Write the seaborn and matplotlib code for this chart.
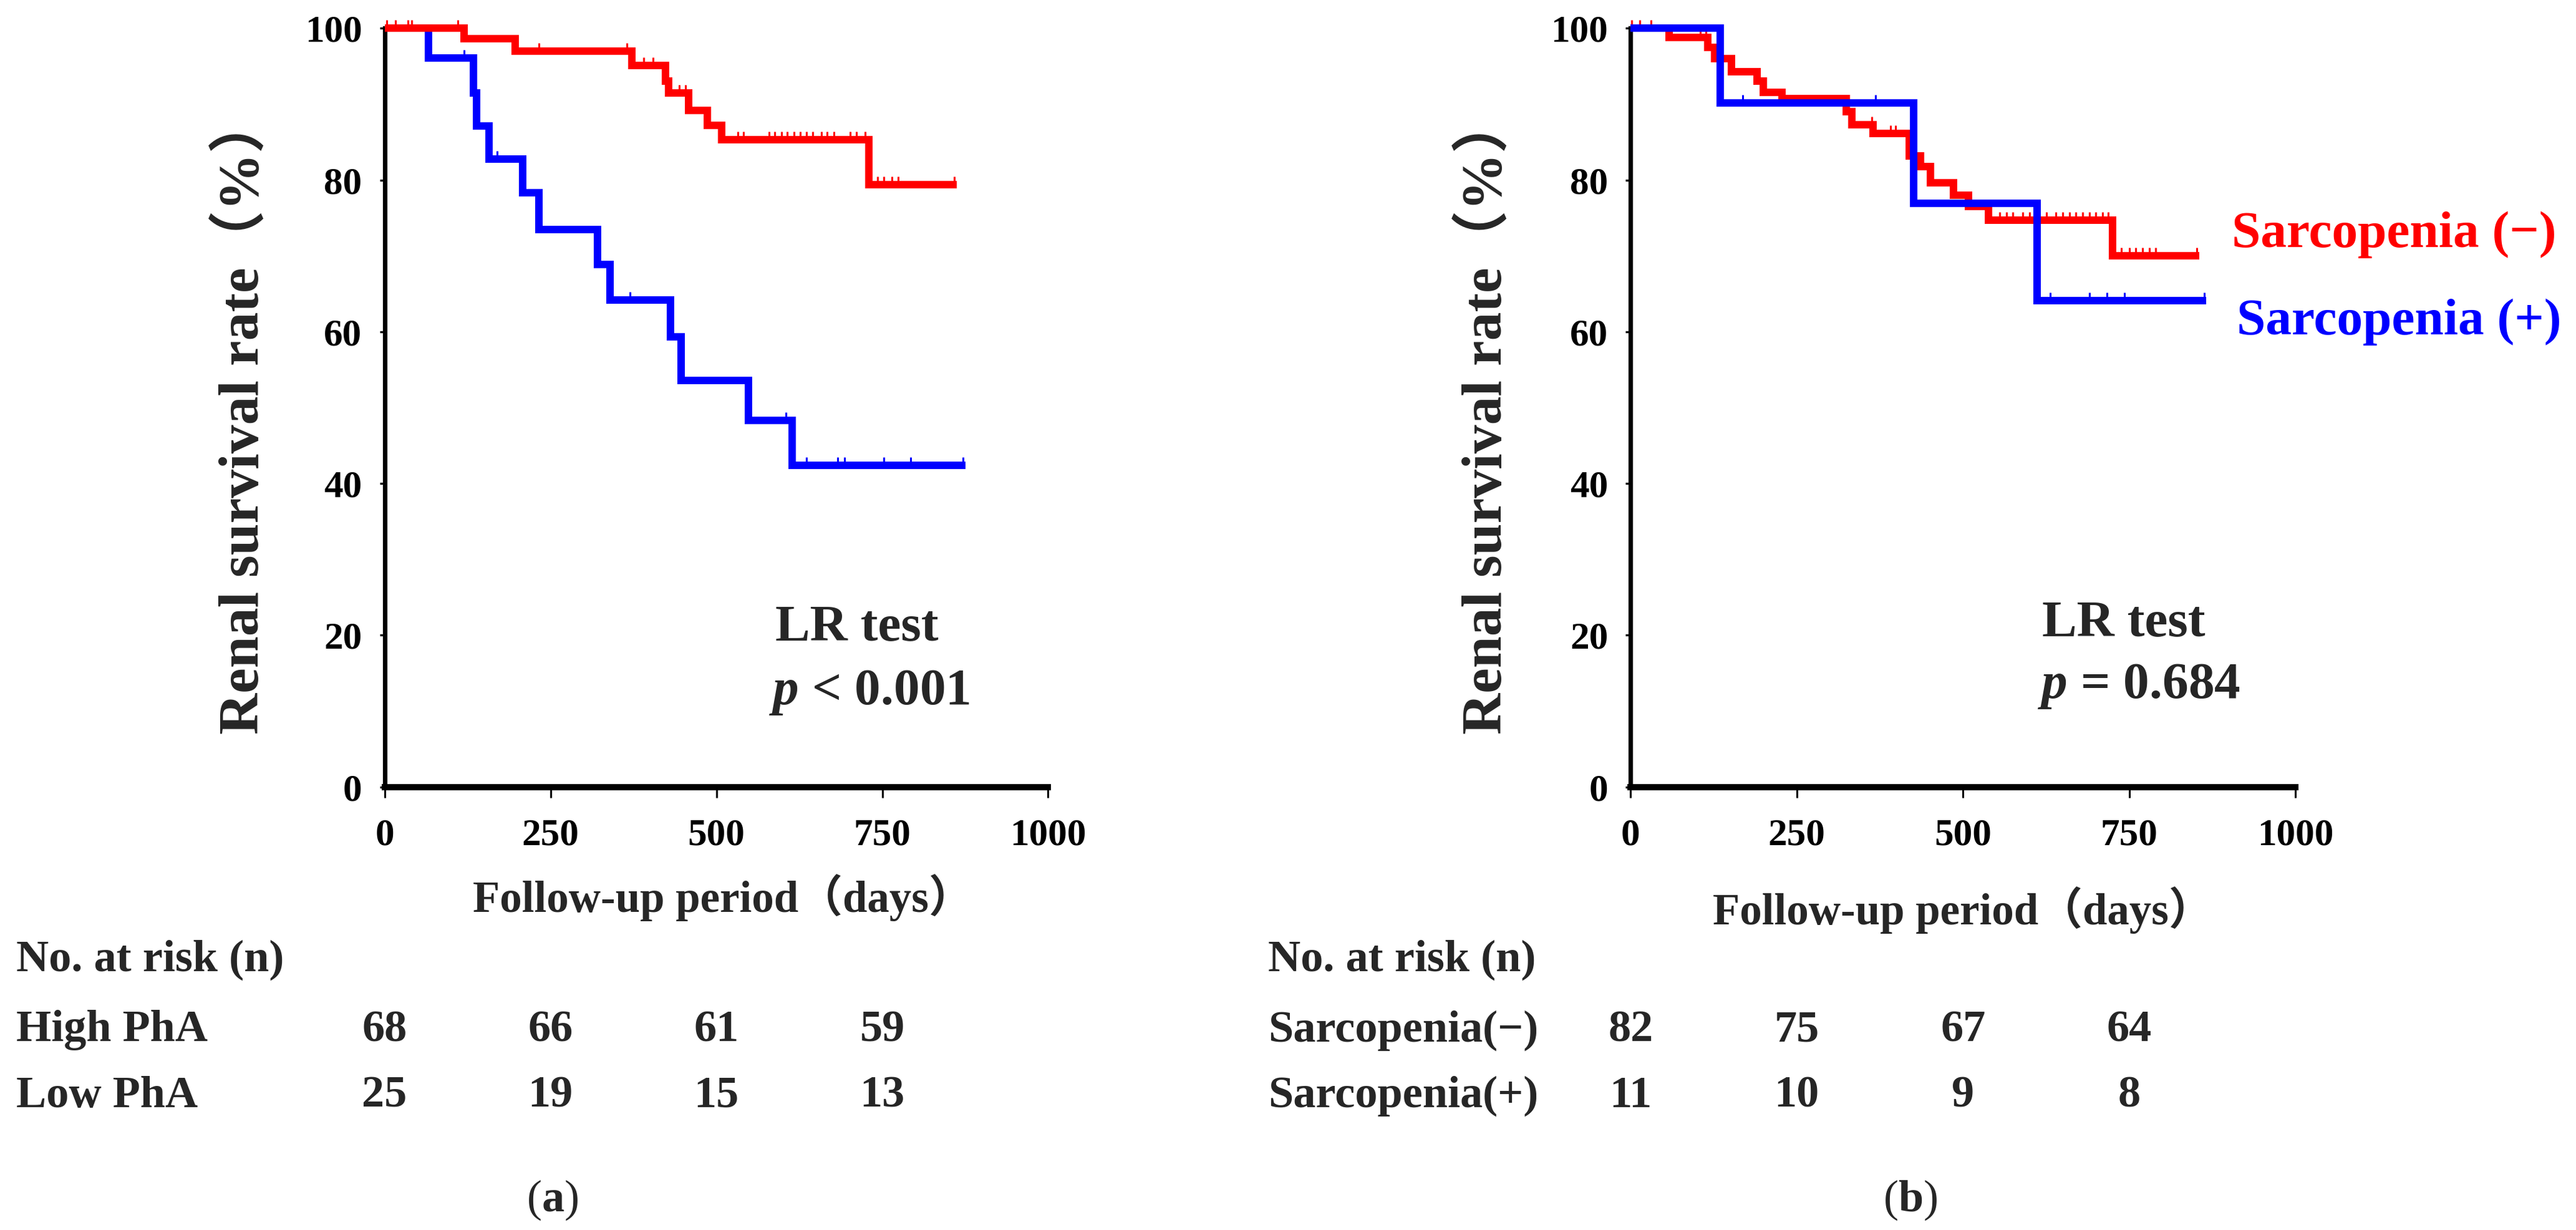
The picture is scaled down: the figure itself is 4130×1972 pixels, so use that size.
import numpy as np
import pandas as pd
import matplotlib
matplotlib.use("Agg")
import matplotlib.pyplot as plt
import seaborn as sns
from matplotlib.path import Path
from matplotlib.transforms import blended_transform_factory

# ---------------- data ----------------
# Panel (a): High PhA (red) / Low PhA (blue)
hi_days = [0, 120, 197, 373, 423, 428, 458, 486, 508, 730, 862]
hi_surv = [100, 98.6, 97.0, 95.1, 93.0, 91.5, 89.2, 87.2, 85.3, 79.4, 79.4]
hi_cens = [3, 16, 35, 41, 110, 233, 365, 390, 405, 444, 453, 532, 541, 579, 588,
           598, 607, 617, 626, 636, 645, 658, 667, 677, 702, 711, 724, 743, 752,
           765, 774, 859]

lo_days = [0, 66, 134, 139, 157, 208, 233, 321, 340, 431, 447, 548, 614, 875]
lo_surv = [100, 96.1, 91.5, 87.1, 82.8, 78.3, 73.5, 68.9, 64.2, 59.3, 53.6, 48.3, 42.4, 42.4]
lo_cens = [120, 170, 370, 605, 636, 683, 693, 752, 793, 872]

# Panel (b): Sarcopenia (-) (red) / Sarcopenia (+) (blue)
sn_days = [0, 58, 116, 126, 152, 190, 200, 228, 324, 333, 365, 419, 436, 451, 486,
           508, 538, 725, 855]
sn_surv = [100, 98.8, 97.5, 96.0, 94.3, 93.0, 91.6, 90.7, 89.0, 87.3, 86.1, 83.2,
           81.8, 79.6, 78.0, 76.5, 74.7, 70.0, 70.0]
sn_cens = [2, 14, 31, 105, 113, 118, 363, 391, 398, 555, 565, 575, 590, 600, 610,
           625, 640, 650, 660, 670, 680, 690, 700, 710, 718, 738, 750, 760, 770,
           780, 790, 852]

sp_days = [0, 135, 426, 611, 866]
sp_surv = [100, 90.2, 76.9, 64.1, 64.1]
sp_cens = [169, 368, 631, 690, 716, 743, 863]

risk_times = [0, 250, 500, 750]
risk_hi = [68, 66, 61, 59]
risk_lo = [25, 19, 15, 13]
risk_sn = [82, 75, 67, 64]
risk_sp = [11, 10, 9, 8]

x_ticks = [0, 250, 500, 750, 1000]
y_ticks = [0, 20, 40, 60, 80, 100]

RED = "#FF0000"
BLUE = "#0000FF"

# ---------------- style ----------------
sns.set_style("white")
plt.rcParams["font.family"] = ["Liberation Serif", "Noto Sans CJK JP", "DejaVu Sans"]
plt.rcParams["font.weight"] = "bold"
plt.rcParams["mathtext.fontset"] = "custom"
plt.rcParams["mathtext.rm"] = "Liberation Serif:bold"
plt.rcParams["mathtext.it"] = "Liberation Serif:italic:bold"
plt.rcParams["mathtext.bf"] = "Liberation Serif:bold"

fig = plt.figure(figsize=(20.65, 9.86), dpi=200)
axL = fig.add_axes([0.1493, 0.3602, 0.2576, 0.6168])
axR = fig.add_axes([0.6330, 0.3602, 0.2581, 0.6168])

tick_marker = Path([(0, 0), (0, 1)], [Path.MOVETO, Path.LINETO])


def km_curve(ax, days, surv, cens, color):
    df = pd.DataFrame({"day": days, "surv": surv})
    sns.lineplot(data=df, x="day", y="surv", ax=ax, color=color, linewidth=4.3,
                 drawstyle="steps-post", estimator=None, sort=False, clip_on=False,
                 solid_joinstyle="miter", solid_capstyle="butt", zorder=3)
    d = np.asarray(days, float)
    s = np.asarray(surv, float)
    c = np.asarray(cens, float)
    idx = np.searchsorted(d, c, side="right") - 1
    ax.plot(c, s[idx], linestyle="none", marker=tick_marker, markersize=9.5,
            markeredgewidth=1.1, color=color, clip_on=False, zorder=3)


def style_axes(ax):
    ax.set_xlim(0, 1000)
    ax.set_ylim(0, 100)
    ax.set_xticks(x_ticks)
    ax.set_yticks(y_ticks)
    ax.set_xticklabels([str(v) for v in x_ticks])
    ax.set_yticklabels([str(v) for v in y_ticks])
    for side in ("top", "right"):
        ax.spines[side].set_visible(False)
    ax.spines["left"].set_linewidth(2.6)
    ax.spines["bottom"].set_linewidth(3.6)
    ax.spines["left"].set_color("black")
    ax.spines["bottom"].set_color("black")
    ax.tick_params(axis="x", direction="out", length=6, width=1.1, pad=12,
                   labelsize=22, colors="black", bottom=True)
    ax.tick_params(axis="y", direction="out", length=3, width=1.2, pad=10,
                   labelsize=22, colors="black", left=True)
    for lab in ax.get_xticklabels() + ax.get_yticklabels():
        lab.set_fontweight("bold")
    ax.grid(False)


# Panel (a)
km_curve(axL, lo_days, lo_surv, lo_cens, BLUE)
km_curve(axL, hi_days, hi_surv, hi_cens, RED)
style_axes(axL)
axL.set_xlabel("Follow-up period（days）", fontsize=25.5, fontweight="bold")
axL.xaxis.set_label_coords(0.51, -0.146)
axL.xaxis.label.set_va("center")
axL.set_ylabel("Renal survival rate（%）", fontsize=33, fontweight="bold")
axL.yaxis.set_label_coords(-0.213, 0.49)
axL.yaxis.label.set_va("center")
axL.text(589, 19.3, "LR test", fontsize=30, fontweight="bold", ha="left", va="baseline")
axL.text(579, 10.9, "$p$ < 0.001", fontsize=30, fontweight="bold", ha="left", va="baseline")

# Panel (b)
km_curve(axR, sn_days, sn_surv, sn_cens, RED)
km_curve(axR, sp_days, sp_surv, sp_cens, BLUE)
style_axes(axR)
axR.set_xlabel("Follow-up period（days）", fontsize=25.5, fontweight="bold")
axR.xaxis.set_label_coords(0.50, -0.162)
axR.xaxis.label.set_va("center")
axR.set_ylabel("Renal survival rate（%）", fontsize=33, fontweight="bold")
axR.yaxis.set_label_coords(-0.217, 0.49)
axR.yaxis.label.set_va("center")
axR.text(619, 19.9, "LR test", fontsize=30, fontweight="bold", ha="left", va="baseline")
axR.text(612, 11.7, "$p$ = 0.684", fontsize=30, fontweight="bold", ha="left", va="baseline")
axR.text(0.904, 0.728, "Sarcopenia (−)", transform=axR.transAxes, color=RED,
         fontsize=30, fontweight="bold", ha="left", va="center", clip_on=False)
axR.text(0.912, 0.613, "Sarcopenia (+)", transform=axR.transAxes, color=BLUE,
         fontsize=30, fontweight="bold", ha="left", va="center", clip_on=False)

# ---------------- number at risk tables ----------------
row_y = [0.2196, 0.1623, 0.1088]
fs_tab = 26
fig.text(0.0063, row_y[0], "No. at risk (n)", fontsize=fs_tab, fontweight="bold", ha="left", va="center")
fig.text(0.0063, row_y[1], "High PhA", fontsize=fs_tab, fontweight="bold", ha="left", va="center")
fig.text(0.0063, row_y[2], "Low PhA", fontsize=fs_tab, fontweight="bold", ha="left", va="center")
fig.text(0.4923, row_y[0], "No. at risk (n)", fontsize=fs_tab, fontweight="bold", ha="left", va="center")
fig.text(0.4923, row_y[1], "Sarcopenia(−)", fontsize=fs_tab, fontweight="bold", ha="left", va="center")
fig.text(0.4923, row_y[2], "Sarcopenia(+)", fontsize=fs_tab, fontweight="bold", ha="left", va="center")

trL = blended_transform_factory(axL.transData, fig.transFigure)
trR = blended_transform_factory(axR.transData, fig.transFigure)
for t, a, b in zip(risk_times, risk_hi, risk_lo):
    fig.text(t, row_y[1], str(a), transform=trL, fontsize=fs_tab, fontweight="bold", ha="center", va="center")
    fig.text(t, row_y[2], str(b), transform=trL, fontsize=fs_tab, fontweight="bold", ha="center", va="center")
for t, a, b in zip(risk_times, risk_sn, risk_sp):
    fig.text(t, row_y[1], str(a), transform=trR, fontsize=fs_tab, fontweight="bold", ha="center", va="center")
    fig.text(t, row_y[2], str(b), transform=trR, fontsize=fs_tab, fontweight="bold", ha="center", va="center")

fig.text(0.2143, 0.0243, r"($\mathbf{a}$)", fontsize=26, fontweight="normal", ha="center", va="center")
fig.text(0.7416, 0.0243, r"($\mathbf{b}$)", fontsize=26, fontweight="normal", ha="center", va="center")

fig.savefig("out.png", dpi=200, facecolor="white")
